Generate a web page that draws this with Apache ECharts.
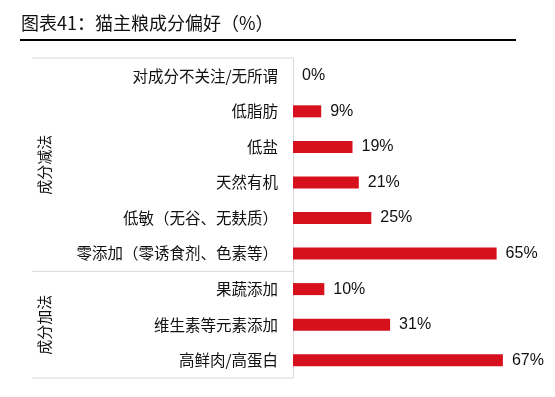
<!DOCTYPE html>
<html><head><meta charset="utf-8">
<script src="https://cdn.jsdelivr.net/npm/echarts@6/dist/echarts.min.js"></script>
<style>html,body{margin:0;padding:0;background:#fff}#c{width:555px;height:397px}</style>
</head><body><div id="c"></div>
<script>
var categories = ['对成分不关注/无所谓','低脂肪','低盐','天然有机','低敏（无谷、无麸质）','零添加（零诱食剂、色素等）','果蔬添加','维生素等元素添加','高鲜肉/高蛋白'];
var values = [0, 9, 19, 21, 25, 65, 10, 31, 67];
var groups = [{name:'成分减法', from:0, to:5}, {name:'成分加法', from:6, to:8}];
var titleText = '图表41：猫主粮成分偏好（%）';

var chart = echarts.init(document.getElementById('c'));
var option = {
  animation:false,
  grid:{left:293, right:2, top:58, bottom:19},
  xAxis:{type:'value', min:0, max:83, show:false},
  yAxis:{type:'category', data:categories, inverse:true,
    axisLine:{show:true, lineStyle:{color:'#d9d9d9', width:1}},
    axisTick:{show:false},
    axisLabel:{margin:15, fontSize:15.5, color:'#111', fontFamily:'Noto Sans CJK SC'}},
  series:[{type:'bar', data:values, barWidth:12, itemStyle:{color:'#d7101e'},
    label:{show:true, position:'right', distance:9, formatter:'{c}%', fontSize:16, color:'#111', fontFamily:'Liberation Sans, Arial'}}]
};
chart.setOption(option);

function build(){
  var left = 32;
  var axisX = chart.convertToPixel({xAxisIndex:0}, 0);
  var y0 = chart.convertToPixel({yAxisIndex:0}, 0);
  var y1 = chart.convertToPixel({yAxisIndex:0}, 1);
  var step = y1 - y0;
  var g = [];
  g.push({type:'text', left:21, top:14, style:{text:titleText, fontSize:18, fill:'#111', fontFamily:'Noto Sans CJK SC'}});
  g.push({type:'line', shape:{x1:20, y1:40, x2:516, y2:40}, style:{stroke:'#000', lineWidth:2}});
  groups.forEach(function(gr, i){
    var top = y0 + (gr.from - 0.5) * step;
    var bot = y0 + (gr.to + 0.5) * step;
    if (i === 0) g.push({type:'line', shape:{x1:left, y1:top, x2:axisX, y2:top}, style:{stroke:'#d9d9d9', lineWidth:1}});
    g.push({type:'line', shape:{x1:left, y1:bot, x2:axisX, y2:bot}, style:{stroke:'#d9d9d9', lineWidth:1}});
    g.push({type:'text', x:44, y:(top+bot)/2, rotation:Math.PI/2,
      style:{text:gr.name, fontSize:15, fill:'#111', align:'center', verticalAlign:'middle', fontFamily:'Noto Sans CJK SC'}});
  });
  chart.setOption({graphic:g});
}
build();
</script></body></html>
